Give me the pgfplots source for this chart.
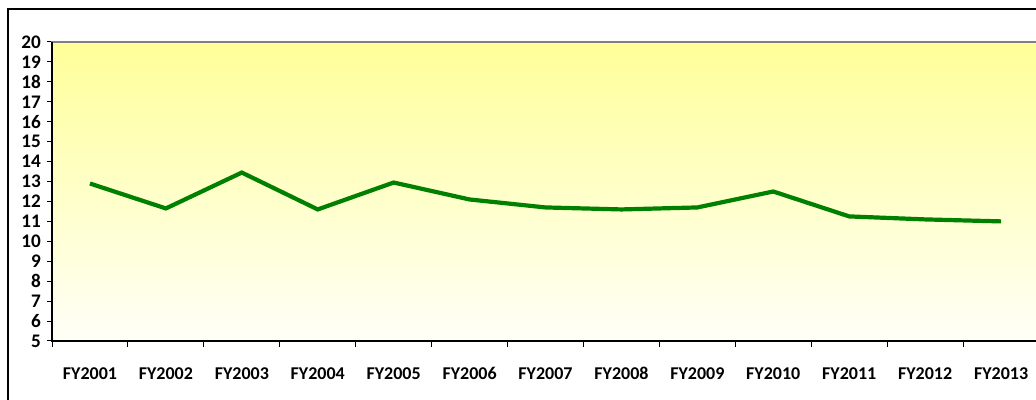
\documentclass[border=0pt]{standalone}
\usepackage{pgfplots}
\pgfplotsset{compat=1.18}
\usepackage{fontspec}
\setmainfont{Carlito}
\definecolor{bgtop}{RGB}{255,255,153}
\definecolor{bgbot}{RGB}{255,255,248}
\definecolor{linegreen}{RGB}{0,128,0}
\begin{document}
\begin{tikzpicture}
\useasboundingbox (0,0) rectangle (518pt,200pt);
\draw[line width=0.8pt] (4pt,-20pt) -- (4pt,195.5pt) -- (540pt,195.5pt);
\begin{axis}[
  at={(26pt,29.5pt)}, anchor=south west, scale only axis,
  width=493.5pt, height=149.5pt,
  xmin=-0.5, xmax=12.5, ymin=5, ymax=20,
  ytick={5,6,...,20},
  xtick={0,1,...,12},
  xticklabels={FY2001,FY2002,FY2003,FY2004,FY2005,FY2006,FY2007,FY2008,FY2009,FY2010,FY2011,FY2012,FY2013},
  minor xtick={-0.5,0.5,...,12.5},
  tick align=outside, xtick pos=bottom, ytick pos=left,
  major x tick style={draw=none},
  minor tick length=3pt, major tick length=2.5pt,
  tick style={black, line width=0.5pt},
  axis line style={draw=gray, line width=0.8pt},
  axis background/.style={top color=bgtop, bottom color=bgbot},
  /pgf/number format/assume math mode=true,
  xticklabel style={font=\bfseries\fontsize{9}{10}\selectfont, yshift=-7pt, anchor=north, text height=1.3ex, text depth=0pt},
  yticklabel style={font=\bfseries\fontsize{9.6}{10}\selectfont, xshift=0.5pt},
  after end axis/.code={\draw[black,line width=0.8pt] (rel axis cs:0,1) -- (rel axis cs:0,0) -- (rel axis cs:1,0);},
]
\addplot[linegreen, line width=2.1pt, mark=none] coordinates {
(0,12.9) (1,11.65) (2,13.45) (3,11.6) (4,12.95) (5,12.1) (6,11.7) (7,11.6) (8,11.7) (9,12.5) (10,11.25) (11,11.1) (12,11.0)
};
\end{axis}
\end{tikzpicture}
\end{document}
